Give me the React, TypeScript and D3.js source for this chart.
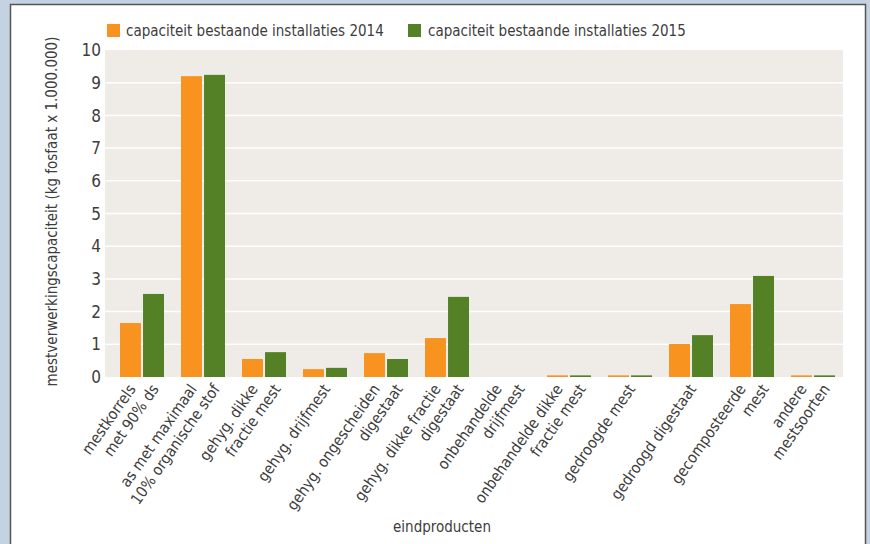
import React, { useEffect, useRef } from 'react';
import * as d3 from 'd3';

// categories (line breaks as in the original labels)
const categories: string[][] = [
  ['mestkorrels', 'met 90% ds'],
  ['as met maximaal', '10% organische stof'],
  ['gehyg. dikke', 'fractie mest'],
  ['gehyg. drijfmest'],
  ['gehyg. ongescheiden', 'digestaat'],
  ['gehyg. dikke fractie', 'digestaat'],
  ['onbehandelde', 'drijfmest'],
  ['onbehandelde dikke', 'fractie mest'],
  ['gedroogde mest'],
  ['gedroogd digestaat'],
  ['gecomposteerde', 'mest'],
  ['andere', 'mestsoorten'],
];

const values2014 = [1.65, 9.2, 0.55, 0.24, 0.73, 1.19, 0, 0.05, 0.05, 1.01, 2.23, 0.05];
const values2015 = [2.54, 9.24, 0.76, 0.28, 0.55, 2.45, 0, 0.05, 0.05, 1.28, 3.09, 0.05];

const seriesNames = ['capaciteit bestaande installaties 2014', 'capaciteit bestaande installaties 2015'];
const seriesColors = ['#f7931e', '#548125'];
const yTicks = [0, 1, 2, 3, 4, 5, 6, 7, 8, 9, 10];

const W = 870;
const H = 544;
const FONT = '"DejaVu Sans Condensed", "Liberation Sans Narrow", sans-serif';
const TEXT = '#3d3d3d';

const App: React.FC = () => {
  const svgRef = useRef<SVGSVGElement>(null);

  useEffect(() => {
    if (!svgRef.current) return;
    const svg = d3.select(svgRef.current);
    svg.selectAll('*').remove();

    const plot = { left: 105, right: 843, top: 50, bottom: 377 };

    // page background + white panel
    svg.append('rect').attr('width', W).attr('height', H).attr('fill', '#c4d2e2');
    svg.append('rect')
      .attr('x', 10.5).attr('y', 4.5)
      .attr('width', 855).attr('height', H + 10)
      .attr('fill', '#fff')
      .attr('stroke', '#555')
      .attr('stroke-width', 1.5);

    const x0 = d3.scaleBand<number>()
      .domain(d3.range(categories.length))
      .range([111.5, 843.5]);

    const x1 = d3.scaleBand<number>()
      .domain([0, 1])
      .range([x0.bandwidth() / 2 - 22, x0.bandwidth() / 2 + 22])
      .paddingInner(0.09);

    const y = d3.scaleLinear().domain([0, 10]).range([plot.bottom, plot.top]);

    // plot background
    svg.append('rect')
      .attr('x', plot.left).attr('y', plot.top)
      .attr('width', plot.right - plot.left)
      .attr('height', plot.bottom - plot.top)
      .attr('fill', '#efebe7');

    // gridlines
    svg.append('g')
      .selectAll('line')
      .data(yTicks.slice(1, -1))
      .join('line')
      .attr('x1', plot.left).attr('x2', plot.right)
      .attr('y1', d => y(d)).attr('y2', d => y(d))
      .attr('stroke', '#fff')
      .attr('stroke-width', 1.5);

    // bars
    const series = [values2014, values2015];
    series.forEach((vals, si) => {
      svg.append('g')
        .selectAll('rect')
        .data(vals)
        .join('rect')
        .attr('x', (_, i) => (x0(i) || 0) + (x1(si) || 0))
        .attr('y', d => y(d))
        .attr('width', x1.bandwidth())
        .attr('height', d => plot.bottom - y(d))
        .attr('fill', seriesColors[si]);
    });

    // y tick labels
    svg.append('g')
      .selectAll('text')
      .data(yTicks)
      .join('text')
      .attr('x', 101)
      .attr('y', d => y(d))
      .attr('dy', '0.36em')
      .attr('text-anchor', 'end')
      .style('font-family', FONT)
      .style('font-size', '17px')
      .style('fill', TEXT)
      .text(d => d);

    // x labels: every line rotated, lines shifted horizontally
    const lineShift = 23;
    const xl = svg.append('g');
    categories.forEach((lines, i) => {
      const cx = (x0(i) || 0) + x0.bandwidth() / 2;
      lines.forEach((line, li) => {
        const dx = (li - (lines.length - 1) / 2) * lineShift;
        xl.append('text')
          .attr('transform', `translate(${cx + 6 + dx}, 389) rotate(-55)`)
          .attr('text-anchor', 'end')
          .style('font-family', FONT)
          .style('font-size', '15.5px')
          .style('fill', TEXT)
          .text(line);
      });
    });

    // axis titles
    svg.append('text')
      .attr('transform', `translate(57, 211.5) rotate(-90)`)
      .attr('text-anchor', 'middle')
      .style('font-family', FONT)
      .style('font-size', '15px')
      .style('fill', TEXT)
      .text('mestverwerkingscapaciteit (kg fosfaat x 1.000.000)');

    svg.append('text')
      .attr('x', 442)
      .attr('y', 532)
      .attr('text-anchor', 'middle')
      .style('font-family', FONT)
      .style('font-size', '15px')
      .style('fill', TEXT)
      .text('eindproducten');

    // legend
    const legendX = [107, 408];
    seriesNames.forEach((name, si) => {
      const lg = svg.append('g').attr('transform', `translate(${legendX[si]}, 24)`);
      lg.append('rect')
        .attr('width', 13).attr('height', 13)
        .attr('fill', seriesColors[si]);
      lg.append('text')
        .attr('x', si === 0 ? 19 : 20)
        .attr('y', 12)
        .style('font-family', FONT)
        .style('font-size', '15px')
        .style('fill', TEXT)
        .text(name);
    });
  }, []);

  return (
    <div style={{ position: 'absolute', left: 0, top: 0 }}>
      <svg ref={svgRef} width={W} height={H} style={{ display: 'block' }} />
    </div>
  );
};

export default App;
